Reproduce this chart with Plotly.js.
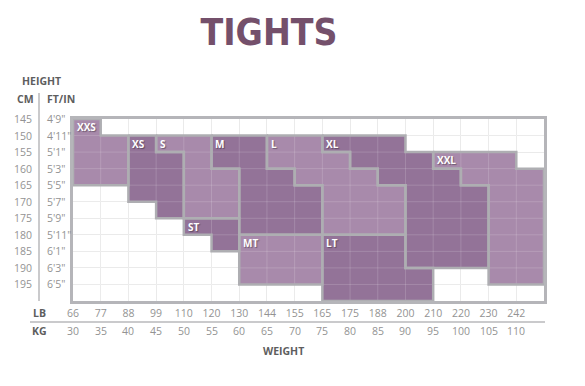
<!DOCTYPE html>
<html>
<head>
<meta charset="utf-8">
<script src="https://cdn.plot.ly/plotly-3.0.1.min.js"></script>
<style>html,body{margin:0;padding:0;background:#fff;}#chart{width:585px;height:386px;}</style>
</head>
<body>
<div id="chart"></div>
<script>
// ---- data ----
const cmLabels = [145,150,155,160,165,170,175,180,185,190,195];
const ftLabels = ["4'9\"","4'11\"","5'1\"","5'3\"","5'5\"","5'7\"","5'9\"","5'11\"","6'1\"","6'3\"","6'5\""];
const lbLabels = [66,77,88,99,110,120,130,144,155,165,175,188,200,210,220,230,242];
const kgLabels = [30,35,40,45,50,55,60,65,70,75,80,85,90,95,100,105,110];

const sizeNames = ['XXS','XS','S','M','L','XL','XXL','ST','MT','LT'];
// per size: weight columns (lb), first and last height (cm) covered in each column
const xxsLb = [66,77];                 const xxsTop = [145,150];             const xxsBot = [160,160];
const xsLb  = [88,99];                 const xsTop  = [150,155];             const xsBot  = [165,170];
const sLb   = [99,110,120];            const sTop   = [150,150,160];         const sBot   = [150,170,170];
const mLb   = [120,130,144,155];       const mTop   = [150,150,160,165];     const mBot   = [155,175,175,175];
const lLb   = [144,155,165,175,188];   const lTop   = [150,150,155,160,165]; const lBot   = [155,160,175,175,175];
const xlLb  = [165,175,188,200,210,220]; const xlTop = [150,150,150,155,160,165]; const xlBot = [150,155,160,185,185,185];
const xxlLb = [210,220,230,242];       const xxlTop = [155,155,155,160];     const xxlBot = [155,160,190,190];
const stLb  = [110,120];               const stTop  = [175,175];             const stBot  = [175,180];
const mtLb  = [130,144,155];           const mtTop  = [180,180,180];         const mtBot  = [190,190,190];
const ltLb  = [165,175,188,200];       const ltTop  = [180,180,180,190];     const ltBot  = [195,195,195,195];
const sizeShade = ['light','dark','light','dark','light','dark','light','dark','light','dark'];

// ---- build ----
const regions = [
  [xxsLb,xxsTop,xxsBot],[xsLb,xsTop,xsBot],[sLb,sTop,sBot],[mLb,mTop,mBot],[lLb,lTop,lBot],
  [xlLb,xlTop,xlBot],[xxlLb,xxlTop,xxlBot],[stLb,stTop,stBot],[mtLb,mtTop,mtBot],[ltLb,ltTop,ltBot]
];
const colors = {dark:'#937398', light:'#a88aab'};
const borderColor = '#aeaeb2';

function polygon(lbs, tops, bots){
  const xs=[], ys=[];
  const cols = lbs.map(v=>lbLabels.indexOf(v));
  const t = tops.map(v=>cmLabels.indexOf(v));
  const b = bots.map(v=>cmLabels.indexOf(v)+1);
  for(let i=0;i<cols.length;i++){ xs.push(cols[i],cols[i]+1); ys.push(t[i],t[i]); }
  for(let i=cols.length-1;i>=0;i--){ xs.push(cols[i]+1,cols[i]); ys.push(b[i],b[i]); }
  xs.push(xs[0]); ys.push(ys[0]);
  return {xs, ys, c0: cols[0], r0: t[0]};
}

const traces = [];
const polys = regions.map(r=>polygon(r[0],r[1],r[2]));
polys.forEach((p,i)=>{
  traces.push({type:'scatter', mode:'lines', x:p.xs, y:p.ys, fill:'toself',
    fillcolor: colors[sizeShade[i]], line:{width:0, color:colors[sizeShade[i]]}, hoverinfo:'skip', showlegend:false});
});
// faint grid lines over the coloured cells
const gx=[], gy=[];
for(let c=1;c<lbLabels.length;c++){ gx.push(c,c,null); gy.push(0,cmLabels.length,null); }
for(let r=1;r<cmLabels.length;r++){ gx.push(0,lbLabels.length,null); gy.push(r,r,null); }
traces.push({type:'scatter', mode:'lines', x:gx, y:gy, line:{width:1, color:'rgba(255,255,255,0.16)'}, hoverinfo:'skip', showlegend:false});
polys.forEach((p,i)=>{
  traces.push({type:'scatter', mode:'lines', x:p.xs, y:p.ys,
    line:{width:2.5, color:borderColor}, hoverinfo:'skip', showlegend:false});
});

const annotations = [];
const valFont = {family:'Open Sans', size:10.5, color:'#939393'};
const headFont = {family:'Open Sans', size:10.5, color:'#5e5e5e', weight:'bold'};
polys.forEach((p,i)=>{
  annotations.push({xref:'x', yref:'y', x:p.c0+0.07, y:p.r0+0.5, xanchor:'left', yanchor:'middle',
    text:'<b>'+sizeNames[i]+'</b>', showarrow:false,
    font:{family:'Open Sans', size:10, color:'#ffffff', shadow:'1px 1px 1px rgba(0,0,0,0.35)'}});
});
cmLabels.forEach((v,i)=>{
  annotations.push({xref:'paper', yref:'y', x:(34-73)/471, y:i, xanchor:'right', yanchor:'middle', text:String(v), showarrow:false, font:valFont});
  annotations.push({xref:'paper', yref:'y', x:(45-73)/471, y:i, xanchor:'left', yanchor:'middle', text:ftLabels[i], showarrow:false, font:valFont});
});
kgLabels.forEach((v,i)=>{
  annotations.push({xref:'x', yref:'paper', x:i, y:-(331-301)/182, xanchor:'center', yanchor:'middle', text:String(v), showarrow:false, font:valFont});
});
const headers = [
  ['HEIGHT', 41, 81, 'center'], ['CM', 25, 99, 'center'], ['FT/IN', 45, 99, 'left'],
  ['LB', 39, 313, 'center'], ['KG', 39, 331, 'center'], ['WEIGHT', 283, 351, 'center']
];
headers.forEach(h=>{
  annotations.push({xref:'paper', yref:'paper', x:(h[1]-73)/471, y:(301-h[2])/182, xanchor:h[3], yanchor:'middle',
    text:'<b>'+h[0]+'</b>', showarrow:false, font:headFont});
});

const layout = {
  width:585, height:386,
  margin:{l:73, r:41, t:119, b:85},
  paper_bgcolor:'#ffffff', plot_bgcolor:'#ffffff',
  title:{text:'<b>TIGHTS</b>', font:{family:'DejaVu Sans Condensed', size:37, color:'#74506b'},
    x:269/585, xanchor:'center', xref:'container', y:1-32/386, yanchor:'middle', yref:'container'},
  xaxis:{range:[0,lbLabels.length], tickvals:lbLabels.map((v,i)=>i), ticktext:lbLabels.map(String),
    showgrid:true, gridcolor:'#e8e8e8', gridwidth:1, zeroline:false, ticks:'',
    showline:true, linecolor:'#b5b5b9', linewidth:3, mirror:true, tickfont:valFont, fixedrange:true},
  yaxis:{range:[cmLabels.length,0], tickvals:cmLabels.map((v,i)=>i), showticklabels:false,
    showgrid:true, gridcolor:'#e8e8e8', gridwidth:1, zeroline:false, ticks:'',
    showline:true, linecolor:'#b5b5b9', linewidth:3, mirror:true, fixedrange:true},
  shapes:[
    {type:'line', xref:'paper', yref:'paper', x0:(39-73)/471, x1:(39-73)/471, y0:(301-93)/182, y1:0,
      line:{color:'#b8b8bb', width:1.5}},
    {type:'line', xref:'paper', yref:'paper', x0:(30-73)/471, x1:(545-73)/471, y0:(301-322)/182, y1:(301-322)/182,
      line:{color:'#b8b8bb', width:1.5}}
  ],
  annotations: annotations,
  showlegend:false
};
Plotly.newPlot('chart', traces, layout, {displayModeBar:false, staticPlot:true});
</script>
</body>
</html>
